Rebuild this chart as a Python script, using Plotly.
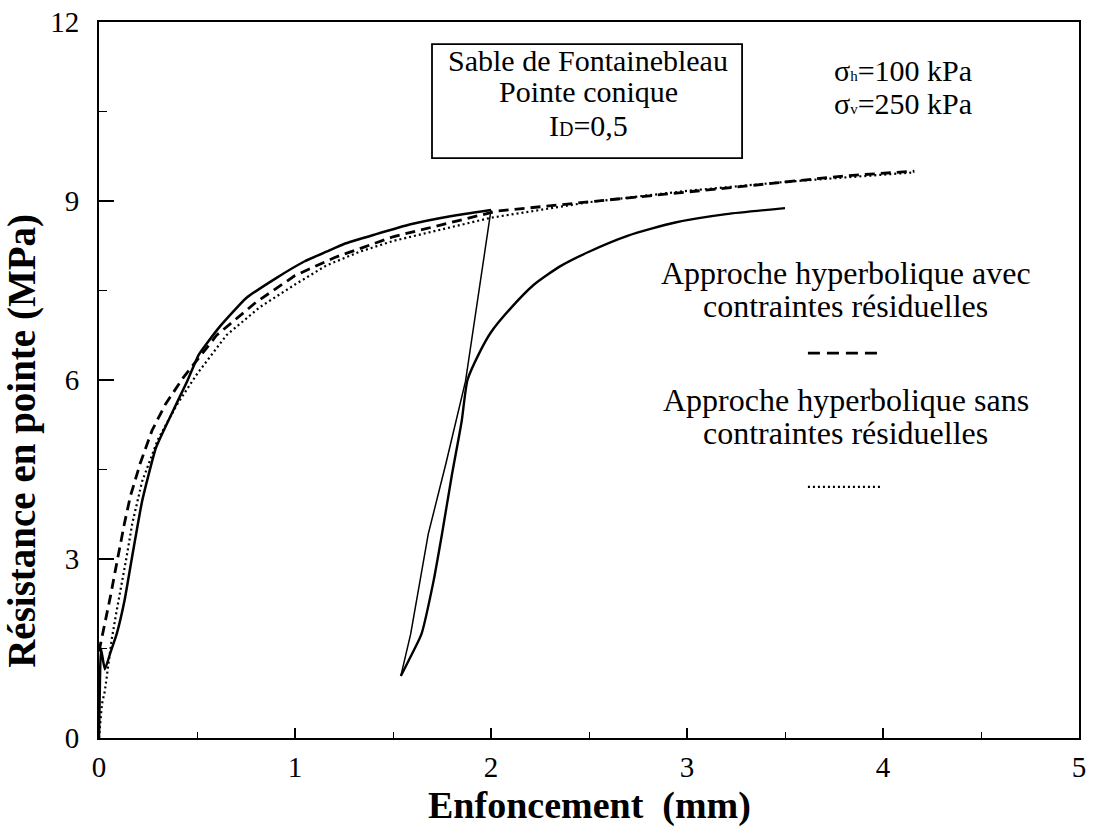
import plotly.graph_objects as go

# ---------------- data ----------------
# Experimental curve: loading, unloading, reloading (mm, MPa)
load_x = [0.0, 0.005, 0.01, 0.03, 0.06, 0.09, 0.13, 0.167, 0.22, 0.29, 0.37, 0.45,
          0.51, 0.61, 0.75, 0.90, 1.05, 1.16, 1.25, 1.41, 1.59, 1.80, 2.0]
load_y = [0.0, 1.0, 1.5, 1.15, 1.45, 1.74, 2.3, 3.0, 3.97, 4.86, 5.43, 5.98,
          6.43, 6.87, 7.37, 7.70, 7.99, 8.15, 8.28, 8.44, 8.61, 8.75, 8.85]
unload_x = [2.0, 1.94, 1.87, 1.77, 1.68, 1.59, 1.54]
unload_y = [8.85, 7.5, 5.98, 4.6, 3.42, 1.74, 1.04]
reload_x = [1.54, 1.58, 1.645, 1.705, 1.75, 1.80, 1.85, 1.88, 1.94, 2.0, 2.1, 2.22,
            2.35, 2.5, 2.7, 2.94, 3.2, 3.5]
reload_y = [1.04, 1.3, 1.74, 2.6, 3.42, 4.4, 5.3, 6.0, 6.45, 6.8, 7.2, 7.6,
            7.9, 8.15, 8.42, 8.64, 8.78, 8.88]

# Hyperbolic approach with residual stresses (dashed)
avec_x = [0.0, 0.02, 0.04, 0.06, 0.08, 0.10, 0.13, 0.16, 0.21, 0.27, 0.34, 0.43,
          0.6, 0.8, 1.0, 1.2, 1.5, 2.03, 2.71, 3.21, 3.8, 4.16]
avec_y = [1.45, 1.75, 2.05, 2.4, 2.75, 3.1, 3.6, 4.05, 4.6, 5.15, 5.6, 6.04,
          6.75, 7.3, 7.75, 8.05, 8.4, 8.83, 9.05, 9.22, 9.42, 9.50]

# Hyperbolic approach without residual stresses (dotted)
sans_x = [0.0, 0.005, 0.015, 0.03, 0.066, 0.09, 0.117, 0.14, 0.17, 0.22, 0.3, 0.4,
          0.5, 0.65, 0.82, 1.0, 1.16, 1.33, 1.5, 2.0, 2.5, 3.0, 3.5, 4.16]
sans_y = [0.0, 0.23, 0.57, 0.79, 1.68, 2.13, 2.58, 3.02, 3.6, 4.3, 5.0, 5.6,
          6.1, 6.75, 7.22, 7.6, 7.92, 8.15, 8.33, 8.72, 8.98, 9.17, 9.32, 9.48]

x_ticks = [0, 1, 2, 3, 4, 5]
y_ticks = [0, 3, 6, 9, 12]

FONT = "Liberation Serif"

fig = go.Figure()

fig.add_trace(go.Scatter(x=sans_x, y=sans_y, mode="lines",
                         line=dict(color="black", width=2.2, dash="2px,3px"),
                         showlegend=False))
fig.add_trace(go.Scatter(x=avec_x, y=avec_y, mode="lines",
                         line=dict(color="black", width=2.8, dash="10px,6px"),
                         showlegend=False))
fig.add_trace(go.Scatter(x=load_x, y=load_y, mode="lines",
                         line=dict(color="black", width=2.5, shape="spline", smoothing=0.4),
                         showlegend=False))
fig.add_trace(go.Scatter(x=unload_x, y=unload_y, mode="lines",
                         line=dict(color="black", width=1.5),
                         showlegend=False))
fig.add_trace(go.Scatter(x=reload_x, y=reload_y, mode="lines",
                         line=dict(color="black", width=2.4, shape="spline", smoothing=0.6),
                         showlegend=False))

fig.update_layout(
    width=1097, height=828,
    margin=dict(l=99, r=18, t=22, b=90),
    paper_bgcolor="white", plot_bgcolor="white",
    font=dict(family=FONT, color="black", size=29),
    xaxis=dict(range=[0, 5], tickvals=x_ticks, ticks="inside", ticklen=10,
               tickwidth=1.5, tickcolor="black", showgrid=False, zeroline=False,
               showline=True, linecolor="black", linewidth=2, mirror=True,
               automargin=False,
               ticklabelstandoff=2, tickfont=dict(size=29, family=FONT),
               minor=dict(dtick=0.5, ticks="inside", ticklen=6, tickwidth=1.2,
                          tickcolor="black", showgrid=False)),
    yaxis=dict(range=[0, 12], tickvals=y_ticks, ticks="inside", ticklen=15,
               tickwidth=1.5, tickcolor="black", showgrid=False, zeroline=False,
               showline=True, linecolor="black", linewidth=2, mirror=True,
               automargin=False,
               ticklabelstandoff=12, tickfont=dict(size=29, family=FONT),
               minor=dict(dtick=1.5, ticks="inside", ticklen=8, tickwidth=1.2,
                          tickcolor="black", showgrid=False)),
)

ann = []
# axis titles
ann.append(dict(text="<b>Enfoncement&nbsp; (mm)</b>", xref="paper", yref="paper",
                x=0.5, y=-0.094, xanchor="center", yanchor="middle", showarrow=False,
                font=dict(size=38, family=FONT)))
ann.append(dict(text="<b>Résistance en pointe (MPa)</b>", xref="paper", yref="paper",
                x=-0.0786, y=0.415, xanchor="center", yanchor="middle",
                showarrow=False, textangle=-90,
                font=dict(size=39, family=FONT)))

# box text
box_lines = ["Sable de Fontainebleau", "Pointe conique",
             "I<span style='font-size:20px'>D</span>=0,5"]
box_y = [11.36, 10.83, 10.27]
for t, yy in zip(box_lines, box_y):
    ann.append(dict(text=t, x=2.495, y=yy, xref="x", yref="y", showarrow=False,
                    xanchor="center", yanchor="middle",
                    font=dict(size=30, family=FONT)))

# stress conditions
ann.append(dict(text="σ<span style='font-size:15px'>h</span>=100 kPa", x=4.10, y=11.19,
                xref="x", yref="y", showarrow=False, xanchor="center", yanchor="middle",
                font=dict(size=30, family=FONT)))
ann.append(dict(text="σ<span style='font-size:15px'>v</span>=250 kPa", x=4.10, y=10.64,
                xref="x", yref="y", showarrow=False, xanchor="center", yanchor="middle",
                font=dict(size=30, family=FONT)))

# legend texts
leg = [("Approche hyperbolique avec", 7.79), ("contraintes résiduelles", 7.24),
       ("Approche hyperbolique sans", 5.66), ("contraintes résiduelles", 5.11)]
for t, yy in leg:
    ann.append(dict(text=t, x=3.81, y=yy, xref="x", yref="y", showarrow=False,
                    xanchor="center", yanchor="middle",
                    font=dict(size=32, family=FONT)))

fig.update_layout(annotations=ann)

# box frame and legend samples (decorations)
fig.add_shape(type="rect", xref="x", yref="y", x0=1.699, x1=3.281, y0=9.72, y1=11.63,
              line=dict(color="black", width=1.8), fillcolor="rgba(0,0,0,0)")
fig.add_shape(type="line", xref="x", yref="y", x0=3.617, x1=3.995, y0=6.45, y1=6.45,
              line=dict(color="black", width=2.8, dash="12px,7px"))
fig.add_shape(type="line", xref="x", yref="y", x0=3.617, x1=3.995, y0=4.21, y1=4.21,
              line=dict(color="black", width=2.2, dash="2px,3px"))

fig.write_html("out.html", config={"displayModeBar": False},
               post_script="document.body.style.margin='0';"
                           "document.body.style.overflow='hidden';")
